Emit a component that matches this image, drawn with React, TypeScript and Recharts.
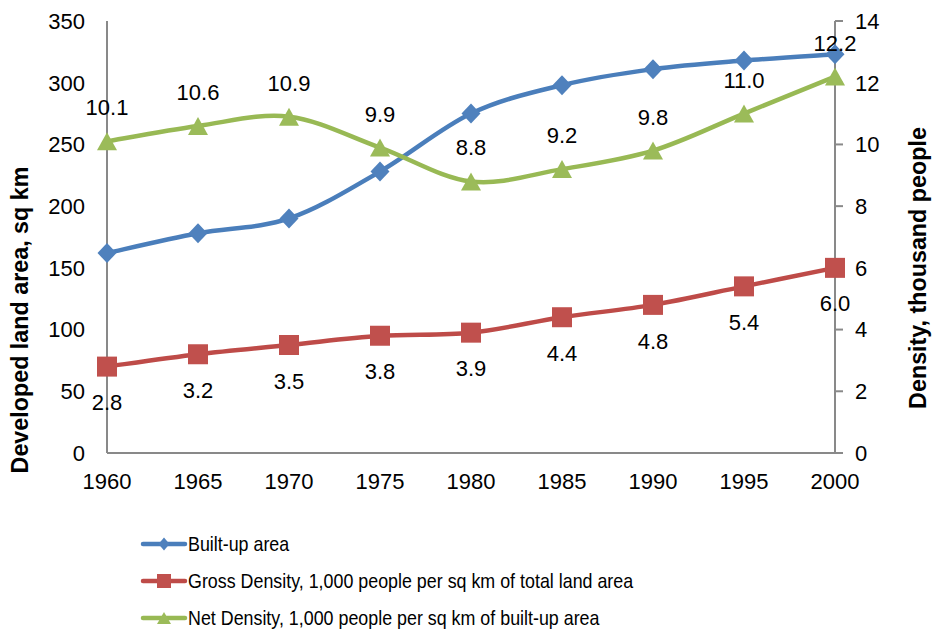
import { LineChart, Line, XAxis, YAxis, Legend, LabelList } from 'recharts';

const years = ['1960', '1965', '1970', '1975', '1980', '1985', '1990', '1995', '2000'];
const builtUpArea = [162, 178, 190, 228, 275, 298, 311, 318, 323];
const grossDensity = [2.8, 3.2, 3.5, 3.8, 3.9, 4.4, 4.8, 5.4, 6.0];
const netDensity = [10.1, 10.6, 10.9, 9.9, 8.8, 9.2, 9.8, 11.0, 12.2];

const leftTicks = [0, 50, 100, 150, 200, 250, 300, 350];
const rightTicks = [0, 2, 4, 6, 8, 10, 12, 14];

const BLUE = '#4A7EBB';
const BLUE_MARK = '#4F81BD';
const RED = '#BE4B48';
const RED_MARK = '#C0504D';
const GREEN = '#98B954';
const GREEN_MARK = '#9BBB59';
const AXIS = '#898989';
const FONT = '"Liberation Sans", Arial, sans-serif';

const rows = years.map((year, i) => ({
  year,
  builtUp: builtUpArea[i],
  gross: grossDensity[i],
  net: netDensity[i],
}));

// Excel-like smoothed line (Catmull-Rom through the points)
function excelSmooth(context: any) {
  let pts: [number, number][] = [];
  return {
    areaStart() {},
    areaEnd() {},
    lineStart() {
      pts = [];
    },
    lineEnd() {
      const n = pts.length;
      if (!n) return;
      context.moveTo(pts[0][0], pts[0][1]);
      for (let i = 0; i < n - 1; i++) {
        const p0 = pts[i - 1] || pts[i];
        const p1 = pts[i];
        const p2 = pts[i + 1];
        const p3 = pts[i + 2] || p2;
        context.bezierCurveTo(
          p1[0] + (p2[0] - p0[0]) / 6,
          p1[1] + (p2[1] - p0[1]) / 6,
          p2[0] - (p3[0] - p1[0]) / 6,
          p2[1] - (p3[1] - p1[1]) / 6,
          p2[0],
          p2[1],
        );
      }
    },
    point(x: number, y: number) {
      pts.push([+x, +y]);
    },
  };
}

function diamond(cx: number, cy: number, w: number, h: number) {
  return `M${cx},${cy - h}L${cx + w},${cy}L${cx},${cy + h}L${cx - w},${cy}Z`;
}

function triangle(cx: number, cy: number, w: number, h: number) {
  return `M${cx},${cy - h}L${cx + w},${cy + h}L${cx - w},${cy + h}Z`;
}

const diamondDot = (props: any) => (
  <path key={`bd-${props.index}`} d={diamond(props.cx, props.cy, 9.5, 10)} fill={BLUE_MARK} />
);

const squareDot = (props: any) => (
  <rect key={`gd-${props.index}`} x={props.cx - 10} y={props.cy - 10} width={20} height={20} fill={RED_MARK} />
);

const triangleDot = (props: any) => (
  <path key={`nd-${props.index}`} d={triangle(props.cx, props.cy, 10, 9)} fill={GREEN_MARK} />
);

function axisTitle(text: string, dx: number, dy: number) {
  return (props: any) => {
    const vb = props.viewBox || {};
    const x = (vb.x ?? 0) + dx;
    const y = (vb.y ?? 0) + (vb.height ?? 0) / 2 + dy;
    return (
      <text
        x={x}
        y={y}
        transform={`rotate(-90, ${x}, ${y})`}
        textAnchor="middle"
        dominantBaseline="central"
        fontSize={23.3}
        fontWeight="bold"
        fill="#000"
        fontFamily={FONT}
      >
        {text}
      </text>
    );
  };
}

const legendItems = [
  { name: 'Built-up area', color: BLUE, mark: 'diamond' },
  { name: 'Gross Density, 1,000 people per sq km of total land area', color: RED, mark: 'square' },
  { name: 'Net Density, 1,000 people per sq km of built-up area', color: GREEN, mark: 'triangle' },
];

function renderLegend() {
  return (
    <div style={{ fontFamily: FONT }}>
      {legendItems.map((item) => (
        <div key={item.name} style={{ display: 'flex', alignItems: 'center', height: 37 }}>
          <svg width={48} height={20} style={{ flex: 'none' }}>
            <line x1={3} y1={10} x2={45} y2={10} stroke={item.color} strokeWidth={4.5} strokeLinecap="round" />
            {item.mark === 'diamond' && <path d={diamond(24, 10, 5.5, 6.5)} fill={BLUE_MARK} />}
            {item.mark === 'square' && <rect x={17} y={3} width={14} height={14} fill={RED_MARK} />}
            {item.mark === 'triangle' && <path d={triangle(24, 10, 7, 6)} fill={GREEN_MARK} />}
          </svg>
          <span
            style={{
              display: 'inline-block',
              fontSize: 21,
              color: '#000',
              whiteSpace: 'nowrap',
              transform: 'scaleX(0.85)',
              transformOrigin: 'left center',
            }}
          >
            {item.name}
          </span>
        </div>
      ))}
    </div>
  );
}

export default function App() {
  return (
    <div style={{ position: 'absolute', left: 0, top: 0, width: 932, height: 631, background: '#fff', fontFamily: FONT }}>
      <LineChart width={932} height={631} data={rows} margin={{ top: 21, right: 0, bottom: 148, left: 0 }}>
        <XAxis
          dataKey="year"
          height={30}
          axisLine={{ stroke: AXIS, strokeWidth: 2 }}
          tickLine={false}
          tickMargin={14}
          tick={{ fill: '#000', fontSize: 22 }}
          interval={0}
        />
        <YAxis
          yAxisId="left"
          width={107}
          domain={[0, 350]}
          ticks={leftTicks}
          axisLine={{ stroke: AXIS, strokeWidth: 2 }}
          tickLine={false}
          tickMargin={16}
          tick={{ fill: '#000', fontSize: 22 }}
          label={axisTitle('Developed land area, sq km', 20, 83)}
        />
        <YAxis
          yAxisId="right"
          orientation="right"
          width={97}
          domain={[0, 14]}
          ticks={rightTicks}
          axisLine={{ stroke: AXIS, strokeWidth: 2 }}
          tickLine={{ stroke: AXIS, strokeWidth: 2 }}
          tickSize={8}
          tickMargin={12}
          tick={{ fill: '#000', fontSize: 22 }}
          label={axisTitle('Density, thousand people', 83, 31)}
        />
        <Legend
          layout="vertical"
          align="center"
          verticalAlign="middle"
          wrapperStyle={{ top: 525, left: 140, width: 720 }}
          content={renderLegend}
        />
        <Line
          yAxisId="left"
          dataKey="builtUp"
          name="Built-up area"
          type={excelSmooth as any}
          stroke={BLUE}
          strokeWidth={4.5}
          dot={diamondDot}
          activeDot={false}
          isAnimationActive={false}
        />
        <Line
          yAxisId="right"
          dataKey="gross"
          name="Gross Density, 1,000 people per sq km of total land area"
          type={excelSmooth as any}
          stroke={RED}
          strokeWidth={4.5}
          dot={squareDot}
          activeDot={false}
          isAnimationActive={false}
        >
          <LabelList
            dataKey="gross"
            position="bottom"
            offset={28}
            fill="#000"
            fontSize={22}
            formatter={(v: any) => Number(v).toFixed(1)}
          />
        </Line>
        <Line
          yAxisId="right"
          dataKey="net"
          name="Net Density, 1,000 people per sq km of built-up area"
          type={excelSmooth as any}
          stroke={GREEN}
          strokeWidth={4.5}
          dot={triangleDot}
          activeDot={false}
          isAnimationActive={false}
        >
          <LabelList
            dataKey="net"
            position="top"
            offset={26}
            fill="#000"
            fontSize={22}
            formatter={(v: any) => Number(v).toFixed(1)}
          />
        </Line>
      </LineChart>
    </div>
  );
}
